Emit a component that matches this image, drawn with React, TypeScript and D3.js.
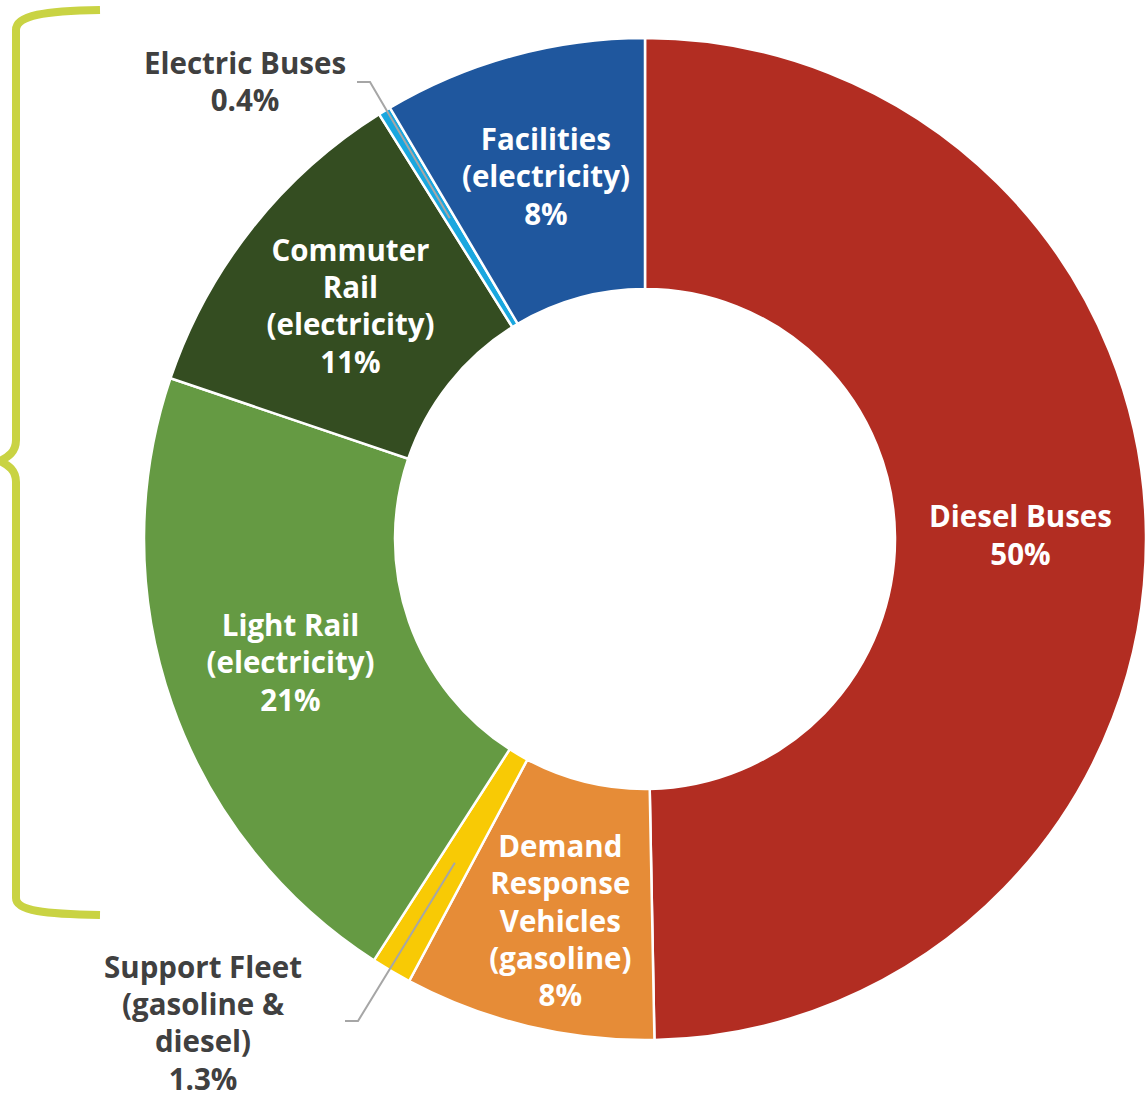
import React from "react";
import * as d3 from "d3";

const categories = [
  "Diesel Buses",
  "Demand Response Vehicles (gasoline)",
  "Support Fleet (gasoline & diesel)",
  "Light Rail (electricity)",
  "Commuter Rail (electricity)",
  "Electric Buses",
  "Facilities (electricity)",
];
const shares = [49.7, 8.1, 1.3, 21.1, 10.9, 0.4, 8.5];
const shareLabels = ["50%", "8%", "1.3%", "21%", "11%", "0.4%", "8%"];
const labelLines = [
  ["Diesel Buses"],
  ["Demand", "Response", "Vehicles", "(gasoline)"],
  ["Support Fleet", "(gasoline &", "diesel)"],
  ["Light Rail", "(electricity)"],
  ["Commuter", "Rail", "(electricity)"],
  ["Electric Buses"],
  ["Facilities", "(electricity)"],
];
const colors = ["#B22D22", "#E68C37", "#F8CA05", "#659A43", "#344D21", "#1AA7DF", "#1F579E"];

// layout
const W = 1146;
const H = 1096;
const CX = 645;
const CY = 539;
const R_OUT = 501;
const R_IN = 250;
const FONT = "'Open Sans', 'Noto Sans', sans-serif";
const FS = 29.5;
const LH = 37.3;
const insideOffsets: Record<number, [number, number]> = { 1: [3, 17] };
const outside: Record<number, { text: [number, number]; elbow: [number, number]; end: [number, number] }> = {
  2: { text: [203, 1023], elbow: [358, 1021], end: [345, 1021] },
  5: { text: [245, 82], elbow: [370, 82], end: [357, 82] },
};

export default function App() {
  const pie = d3
    .pie<number>()
    .sort(null)
    .value((d) => d)
    .startAngle(0)
    .endAngle(2 * Math.PI);
  const arcs = pie(shares);
  const arc = d3.arc<d3.PieArcDatum<number>>().innerRadius(R_IN).outerRadius(R_OUT);

  return (
    <svg
      width={W}
      height={H}
      viewBox={`0 0 ${W} ${H}`}
      style={{ position: "absolute", left: 0, top: 0, background: "#fff" }}
      fontFamily={FONT}
    >
      {/* bracket */}
      <path
        d="M100,10 C45,11 16,15 16,30 L16,440 C16,452 8,457 0,461 C8,465 16,470 16,482 L16,898 C16,911 45,914 100,915"
        fill="none"
        stroke="#C9D343"
        strokeWidth={8}
      />
      <g transform={`translate(${CX},${CY})`}>
        {arcs.map((a, i) => (
          <path key={categories[i]} d={arc(a) || ""} fill={colors[i]} stroke="#fff" strokeWidth={2.5} />
        ))}
      </g>
      {arcs.map((a, i) => {
        const [cx, cy] = arc.centroid(a);
        const lines = [...labelLines[i], shareLabels[i]];
        const o = outside[i];
        if (o) {
          const n = lines.length;
          return (
            <g key={"l" + i}>
              <polyline
                points={`${CX + cx},${CY + cy} ${o.elbow[0]},${o.elbow[1]} ${o.end[0]},${o.end[1]}`}
                fill="none"
                stroke="#A6A6A6"
                strokeWidth={2}
              />
              <text textAnchor="middle" fontSize={FS} fontWeight={700} fill="#404040">
                {lines.map((t, j) => (
                  <tspan key={j} x={o.text[0]} y={o.text[1] + (j - (n - 1) / 2) * LH} dy="0.36em">
                    {t}
                  </tspan>
                ))}
              </text>
            </g>
          );
        }
        const off = insideOffsets[i] || [0, 0];
        const x = CX + cx + off[0];
        const y = CY + cy + off[1];
        const n = lines.length;
        return (
          <text key={"l" + i} textAnchor="middle" fontSize={FS} fontWeight={700} fill="#fff">
            {lines.map((t, j) => (
              <tspan key={j} x={x} y={y + (j - (n - 1) / 2) * LH} dy="0.36em">
                {t}
              </tspan>
            ))}
          </text>
        );
      })}
    </svg>
  );
}
